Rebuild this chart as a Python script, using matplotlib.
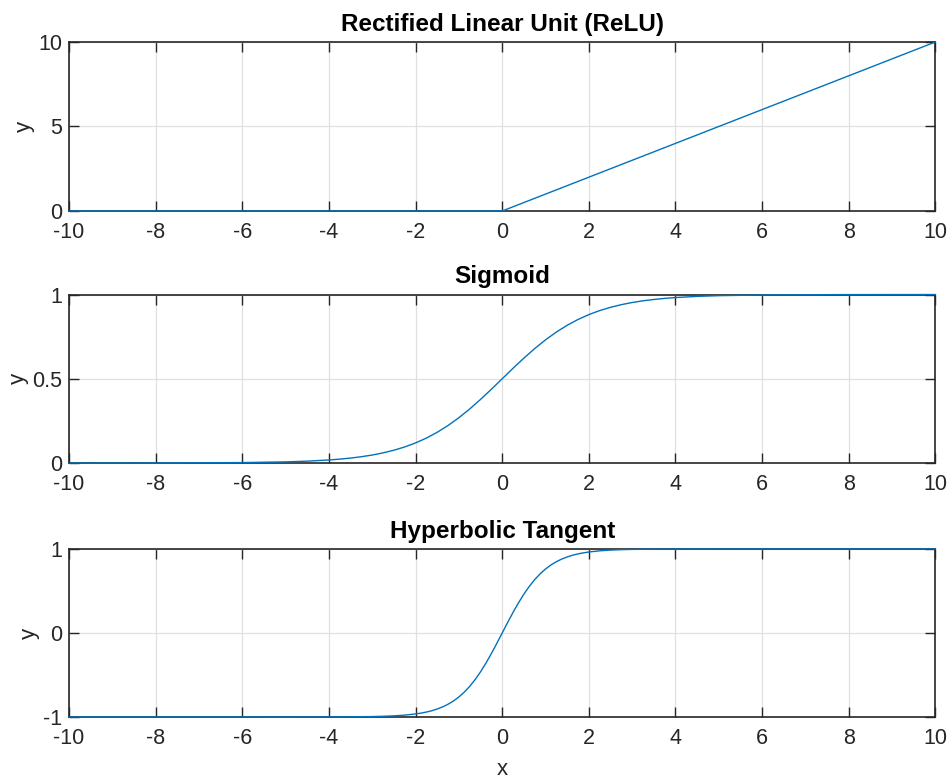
"""
Three activation functions (ReLU, sigmoid, tanh) in MATLAB-style subplots.
"""
import matplotlib
matplotlib.use('Agg')
import matplotlib.pyplot as plt

plt.rcParams['font.family'] = ['Liberation Sans', 'DejaVu Sans']

LINE = '#0072BD'
AX_COLOR = '#262626'

# ReLU: corner points
relu_x = [-10, 0, 10]
relu_y = [0, 0, 10]

# sigmoid samples
sig_x = [-10, -8, -6, -5, -4.5,
         -4, -3.75, -3.5, -3.25, -3, -2.75, -2.5, -2.25, -2, -1.75, -1.5, -1.25,
         -1, -0.75, -0.5, -0.25, 0, 0.25, 0.5, 0.75, 1, 1.25, 1.5, 1.75,
         2, 2.25, 2.5, 2.75, 3, 3.25, 3.5, 3.75, 4,
         4.5, 5, 6, 8, 10]
sig_y = [0.0000, 0.0003, 0.0025, 0.0067, 0.0110,
         0.0180, 0.0230, 0.0293, 0.0373, 0.0474, 0.0601, 0.0759, 0.0953,
         0.1192, 0.1480, 0.1824, 0.2227, 0.2689, 0.3208, 0.3775, 0.4378,
         0.5000, 0.5622, 0.6225, 0.6792, 0.7311, 0.7773, 0.8176, 0.8520,
         0.8808, 0.9047, 0.9241, 0.9399, 0.9526, 0.9627, 0.9707, 0.9770,
         0.9820, 0.9890, 0.9933, 0.9975, 0.9997, 1.0000]

# tanh samples (denser through the steep middle)
tanh_x = [-10, -8, -6, -5, -4.5, -4, -3.5, -3, -2.75, -2.5, -2.25,
          -2, -1.875, -1.75, -1.625, -1.5, -1.375, -1.25, -1.125,
          -1, -0.875, -0.75, -0.625, -0.5, -0.375, -0.25, -0.125,
          0, 0.125, 0.25, 0.375, 0.5, 0.625, 0.75, 0.875,
          1, 1.125, 1.25, 1.375, 1.5, 1.625, 1.75, 1.875,
          2, 2.25, 2.5, 2.75, 3, 3.5, 4, 4.5, 5, 6, 8, 10]
tanh_y = [-1.0000, -1.0000, -1.0000, -0.9999, -0.9998, -0.9993, -0.9982,
          -0.9951, -0.9918, -0.9866, -0.9780,
          -0.9640, -0.9539, -0.9414, -0.9258, -0.9051, -0.8799, -0.8483, -0.8096,
          -0.7616, -0.7039, -0.6351, -0.5546, -0.4621, -0.3584, -0.2449, -0.1244,
          0.0000, 0.1244, 0.2449, 0.3584, 0.4621, 0.5546, 0.6351, 0.7039,
          0.7616, 0.8096, 0.8483, 0.8799, 0.9051, 0.9258, 0.9414, 0.9539,
          0.9640, 0.9780, 0.9866, 0.9918, 0.9951, 0.9982, 0.9993, 0.9998,
          0.9999, 1.0000, 1.0000, 1.0000]

titles = ['Rectified Linear Unit (ReLU)', 'Sigmoid', 'Hyperbolic Tangent']
x_ticks = list(range(-10, 11, 2))
y_ticks = [[0, 5, 10], [0, 0.5, 1], [-1, 0, 1]]
y_ticklabels = [['0', '5', '10'], ['0', '0.5', '1'], ['-1', '0', '1']]
y_lims = [(0, 10), (0, 1), (-1, 1)]

# axes boxes in figure fractions (left, bottom, width, height)
boxes = [(0.0727, 0.7295, 0.913, 0.2167),
         (0.0727, 0.4064, 0.913, 0.2160),
         (0.0727, 0.0808, 0.913, 0.2154)]

fig = plt.figure(figsize=(9.49, 7.8), dpi=100)
series = [(relu_x, relu_y), (sig_x, sig_y), (tanh_x, tanh_y)]

for i, (xs, ys) in enumerate(series):
    ax = fig.add_axes(boxes[i])
    ax.plot(xs, ys, color=LINE, lw=1.0, clip_on=False, zorder=3)
    ax.set_xlim(-10, 10)
    ax.set_ylim(*y_lims[i])
    ax.set_xticks(x_ticks)
    ax.set_xticklabels([str(v) for v in x_ticks])
    ax.set_yticks(y_ticks[i])
    ax.set_yticklabels(y_ticklabels[i])
    ax.grid(True, color='#e0e0e0', lw=0.9)
    ax.set_axisbelow(True)
    ax.tick_params(direction='in', length=7, width=1.0, colors=AX_COLOR,
                   labelsize=15.5, top=True, right=True)
    ax.tick_params(axis='x', pad=8)
    ax.tick_params(axis='y', pad=5)
    for sp in ax.spines.values():
        sp.set_color(AX_COLOR)
        sp.set_linewidth(1.2)
    ax.set_title(titles[i], fontsize=17.5, fontweight='bold', color='black', pad=8)
    ax.set_ylabel('y', fontsize=16, color=AX_COLOR, labelpad=2)
    if i == 2:
        ax.set_xlabel('x', fontsize=16, color=AX_COLOR, labelpad=7)

fig.savefig('out.png', dpi=100, facecolor='white')
